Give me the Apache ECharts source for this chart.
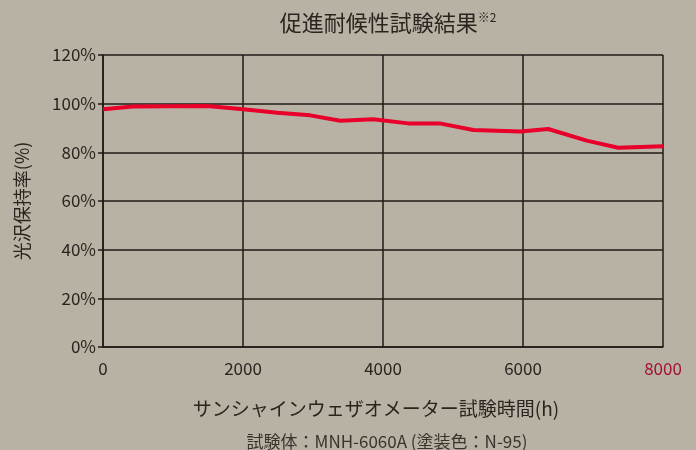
<!DOCTYPE html>
<html>
<head>
<meta charset="utf-8">
<script src="https://cdn.jsdelivr.net/npm/echarts@6/dist/echarts.min.js"></script>
<style>
    html, body { margin: 0; padding: 0; background: #b8b2a4; }
    #chart { width: 696px; height: 450px; }
</style>
</head>
<body>
<div id="chart"></div>
<script>
    // 試験時間(h) と 光沢保持率(%)
    var hours = [0, 430, 1490, 2000, 2490, 2960, 3390, 3860, 4360, 4810, 5290, 5960, 6360, 6910, 7360, 8000];
    var gloss = [97.7, 98.8, 99.0, 97.7, 96.3, 95.2, 93.0, 93.6, 91.9, 91.9, 89.2, 88.6, 89.6, 84.8, 81.9, 82.5];
    var xTicks = [0, 2000, 4000, 6000, 8000];
    var yTicks = [0, 20, 40, 60, 80, 100, 120];

    var font = '"Noto Sans CJK JP", "Noto Sans", sans-serif';
    var textColor = '#2a241f';
    var lineColor = '#1f1a16';

    var points = [];
    for (var i = 0; i < hours.length; i++) {
        points.push([hours[i], gloss[i]]);
    }

    var myChart = echarts.init(document.getElementById('chart'));
    myChart.setOption({
        backgroundColor: '#b8b2a4',
        animation: false,
        textStyle: { fontFamily: font },
        title: [
            {
                text: '{m|促進耐候性試験結果}{s|※2}',
                left: 383,
                top: 6,
                textAlign: 'center',
                textStyle: {
                    fontWeight: 'normal',
                    rich: {
                        m: { fontSize: 22, color: textColor, fontFamily: font, fontWeight: 'normal' },
                        s: { fontSize: 12, color: textColor, fontFamily: font, fontWeight: 'normal', verticalAlign: 'top', padding: [0, 0, 12, 0] }
                    }
                }
            },
            {
                text: '試験体：MNH-6060A (塗装色：N-95)',
                left: 382,
                top: 428,
                textAlign: 'center',
                textStyle: { fontSize: 17, fontWeight: 'normal', color: '#3a332d', fontFamily: font }
            }
        ],
        grid: {
            left: 103,
            right: 33,
            top: 55,
            bottom: 103,
            show: false
        },
        xAxis: {
            type: 'value',
            min: xTicks[0],
            max: xTicks[xTicks.length - 1],
            interval: 2000,
            name: 'サンシャインウェザオメーター試験時間(h)',
            nameLocation: 'middle',
            nameGap: 52,
            nameTextStyle: { fontSize: 19, color: textColor, fontFamily: font, padding: [0, 14, 0, 0] },
            axisLine: { show: true, lineStyle: { color: lineColor, width: 1.5 } },
            axisTick: { show: false },
            splitLine: { show: true, lineStyle: { color: lineColor, width: 1.5 } },
            axisLabel: {
                fontSize: 17,
                margin: 13,
                fontFamily: font,
                color: textColor,
                formatter: function (v) {
                    return v === 8000 ? '{r|' + v + '}' : String(v);
                },
                rich: {
                    r: { fontSize: 17, fontFamily: font, color: '#a3122f' }
                }
            }
        },
        yAxis: {
            type: 'value',
            min: yTicks[0],
            max: yTicks[yTicks.length - 1],
            interval: 20,
            name: '光沢保持率(%)',
            nameLocation: 'middle',
            nameGap: 72,
            nameTextStyle: { fontSize: 18, color: textColor, fontFamily: font },
            axisLine: { show: true, lineStyle: { color: lineColor, width: 1.5 } },
            axisTick: { show: true, length: 5, lineStyle: { color: lineColor, width: 1.5 } },
            splitLine: { show: true, lineStyle: { color: lineColor, width: 1.5 } },
            axisLabel: {
                fontSize: 17,
                margin: 7,
                color: textColor,
                fontFamily: font,
                formatter: '{value}%'
            }
        },
        series: [
            {
                name: '光沢保持率',
                type: 'line',
                data: points,
                showSymbol: false,
                smooth: false,
                lineStyle: { color: '#e8002b', width: 4 },
                itemStyle: { color: '#e8002b' }
            }
        ]
    });
</script>
</body>
</html>
